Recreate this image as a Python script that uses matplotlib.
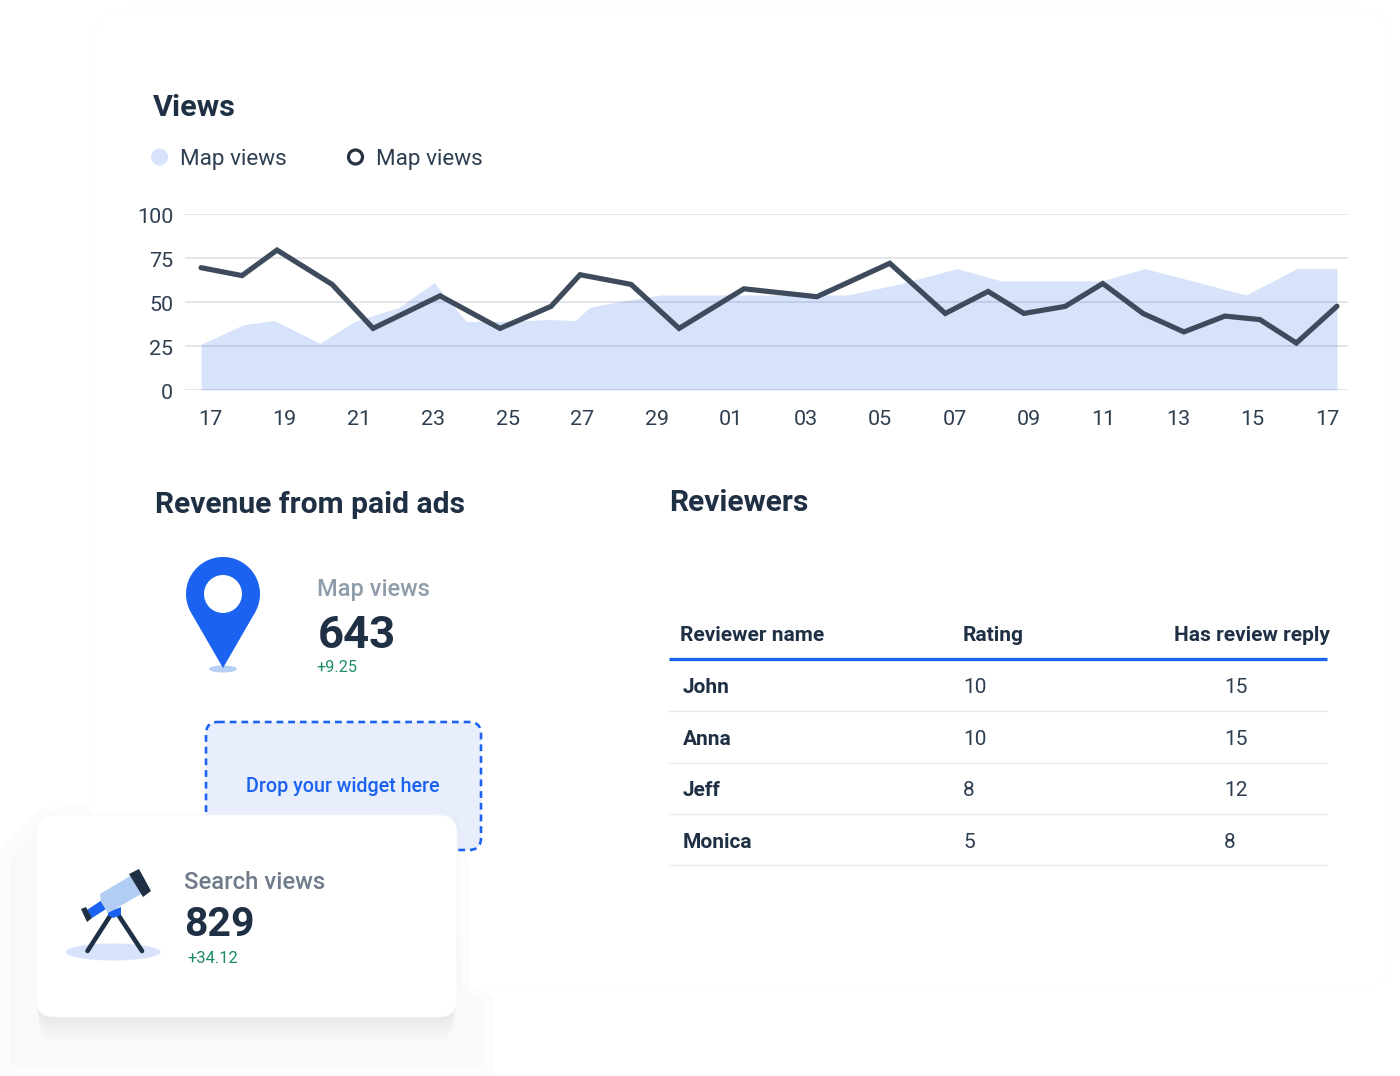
import matplotlib
matplotlib.use("Agg")
import matplotlib.pyplot as plt
from matplotlib.patches import FancyBboxPatch, Circle, Ellipse, Polygon
from matplotlib.transforms import ScaledTranslation
import numpy as np

plt.rcParams['font.family'] = ['Roboto', 'DejaVu Sans']

# ---- data ----
area_days = [-0.24, 0.89, 1.72, 2.95, 3.89, 5.08, 6.02, 6.88, 7.79, 9.11, 9.80, 10.21,
             10.91, 12.14, 14.24, 17.11, 18.48, 20.06, 21.25, 23.96, 25.11, 27.83, 29.20, 30.27]
area_vals = [26, 37, 39.5, 26.5, 39, 47, 61, 39, 39, 40, 39.5, 47,
             50, 54, 54, 54, 60, 69, 62, 62, 69, 54, 69, 69]
line_days = [-0.24, 0.86, 1.80, 3.28, 4.38, 6.18, 7.79, 9.16, 9.94, 11.31, 12.60, 14.34,
             16.30, 18.26, 19.75, 20.90, 21.86, 22.97, 23.98, 25.06, 26.16, 27.26, 28.20, 29.18, 30.27]
line_vals = [69.5, 65, 79.5, 60, 35, 53.5, 35, 47.5, 65.5, 60, 35, 57.5,
             53, 72, 43.5, 56, 43.5, 47.5, 60.5, 43.5, 33, 42, 40, 26.7, 47.6]
day_labels = ['17', '19', '21', '23', '25', '27', '29', '01', '03', '05', '07', '09', '11', '13', '15', '17']
y_ticks = [0, 25, 50, 75, 100]
reviewers = ['John', 'Anna', 'Jeff', 'Monica']
ratings = [10, 10, 8, 5]
replies = [15, 15, 12, 8]
table_headers = ['Reviewer name', 'Rating', 'Has review reply']

W, H = 1400, 1076
PX = 0.72
NAVY = '#1f3044'
BLUE = '#1a62ef'
PALE = '#d6e3fa'
GREEN = '#1a8a6a'

fig = plt.figure(figsize=(W / 100, H / 100), dpi=100, facecolor='white')

# overlay in pixel coordinates
ov = fig.add_axes([0, 0, 1, 1], zorder=1)
ov.set_xlim(0, W)
ov.set_ylim(H, 0)
ov.axis('off')

def txt(x, y, s, size, color=NAVY, weight='normal', ha='left', z=10):
    ov.text(x, y, s, fontsize=size * PX, color=color, fontweight=weight, ha=ha, va='center', zorder=z)

def rrect(x, y, w, h, r, **kw):
    p = FancyBboxPatch((x + r, y + r), w - 2 * r, h - 2 * r,
                       boxstyle=f"round,pad={r},rounding_size={r}", **kw)
    ov.add_patch(p)
    return p

# faint page card
rrect(92, 8, 1300, 982, 40, fc='white', ec='#fdfdfd', lw=1.2, zorder=0)

# chart
ax = fig.add_axes([185 / W, 1 - 390 / H, (1348 - 185) / W, (390 - 214) / H], zorder=2)
ax.patch.set_alpha(0)
ax.set_xlim((185 - 210) / 37.23, (1348 - 210) / 37.23)
ax.set_ylim(0, 100)
ax.fill_between(area_days, area_vals, 0, color=PALE, lw=0, zorder=1)
ax.plot(line_days, line_vals, color='#3d4b5c', lw=5.2 * PX, solid_joinstyle='miter',
        solid_capstyle='round', zorder=3, clip_on=False)
ax.set_axisbelow(False)
ax.set_yticks(y_ticks)
ax.set_xticks(np.arange(len(day_labels)) * 2)
ax.set_xticklabels(day_labels)
ax.grid(axis='y', color='#2a3a60', alpha=0.13, lw=2.0 * PX)
ax.grid(axis='x', visible=False)
ax.tick_params(axis='both', length=0, labelsize=21.5 * PX, labelcolor='#2d3e50')
ax.tick_params(axis='x', pad=14.2)
ax.tick_params(axis='y', pad=8.5)
shift = ScaledTranslation(0, -1.2 / 100, fig.dpi_scale_trans)
for lab in ax.get_yticklabels():
    lab.set_transform(lab.get_transform() + shift)
for s in ax.spines.values():
    s.set_visible(False)

# heading + legend
txt(153, 107.5, 'Views', 30.5, weight='bold')
ov.add_patch(Circle((159.5, 157), 8.5, fc=PALE, ec='none'))
txt(179.5, 160, 'Map views', 22.5, color='#2d3e50')
ov.add_patch(Circle((355.5, 157), 7, fc='white', ec='#25323f', lw=3.2 * PX))
txt(375.5, 160, 'Map views', 22.5, color='#2d3e50')

txt(155, 505, 'Revenue from paid ads', 30, weight='bold')
txt(669.5, 503, 'Reviewers', 30, weight='bold')

# pin
cx, cy, r, ty = 223, 594, 37, 668
ang = np.arcsin(r / (ty - cy))
th = np.linspace(-ang, np.pi + ang, 80)
xs = cx + r * np.cos(th)
ys = cy - r * np.sin(th)
ov.add_patch(Ellipse((223, 669), 28, 7, fc='#b5cff5', ec='none', zorder=2))
ov.add_patch(Polygon(list(zip(xs, ys)) + [(cx, ty)], closed=True, fc=BLUE, ec='none', zorder=3))
ov.add_patch(Circle((cx, cy), 19, fc='white', ec='none', zorder=4))

txt(317, 589.5, 'Map views', 23.6, color='#8f9dab', weight='medium')
txt(317.5, 636.5, '643', 45.5, weight='bold')
txt(316.5, 668, '+9.25', 16.3, color=GREEN)

# drop box
rrect(206, 722, 275, 128, 12, fc='#e8eefc', ec=BLUE, lw=2.6 * PX, ls=(0, (2.6, 1.9)), zorder=2)
txt(342.5, 786.5, 'Drop your widget here', 19.8, color=BLUE, ha='center', weight='medium', z=3)

# soft shadow + small card
outer = [(0, 850), (40, 808), (90, 805), (90, 815), (457, 815), (470, 860), (470, 990),
         (494, 995), (494, 1076), (0, 1076)]
inner = [(10, 860), (45, 820), (90, 818), (457, 830), (462, 990), (484, 1000), (484, 1066), (10, 1066)]
ov.add_patch(Polygon(outer, closed=True, fc='black', ec='none', alpha=0.012, zorder=4))
ov.add_patch(Polygon(inner, closed=True, fc='black', ec='none', alpha=0.012, zorder=4))
for k in range(1, 9):
    rrect(36 + k * 0.4, 820, 421 - k * 0.8, 197 + k * 3, 18, fc='black', ec='none', alpha=0.006, zorder=4)
rrect(36, 815, 421, 202, 18, fc='white', ec='#f6f6f6', lw=0.6, zorder=6)

# telescope
Z = 7
ov.add_patch(Ellipse((113, 952), 95, 17, fc=PALE, ec='none', zorder=Z))
for x0, y0, x1, y1 in [(110, 916, 87.5, 951), (119, 916, 142, 951)]:
    ov.plot([x0, x1], [y0, y1], color=NAVY, lw=4.6 * PX, solid_capstyle='round', zorder=Z + 1)
ov.add_patch(Polygon([(108, 912), (121, 907), (121, 915), (113, 918), (108, 915)], fc=BLUE, ec='none', zorder=Z + 2))
ov.add_patch(Polygon([(87, 910), (102, 900), (106, 909), (92, 918)], fc=BLUE, ec='none', zorder=Z + 2))
ov.add_patch(Polygon([(81, 909), (86, 907), (92, 918), (87, 922)], fc=NAVY, ec='none', zorder=Z + 3))
ov.add_patch(Polygon([(100, 894), (132, 875), (143, 893), (108, 913), (101, 902)], fc='#b2cdf4', ec='none', zorder=Z + 3))
ov.add_patch(Polygon([(129, 874), (139, 869), (151, 891), (143, 897)], fc=NAVY, ec='none', zorder=Z + 4))

txt(184.5, 882.5, 'Search views', 23.9, color='#6f7b8a', weight='medium', z=Z + 5)
txt(184, 925.5, '829', 41, weight='bold', z=Z + 5)
txt(187, 958.5, '+34.12', 16.5, color=GREEN, z=Z + 5)

# table
hy = 635.5
txt(680, hy, table_headers[0], 20.9, weight='bold')
txt(963, hy, table_headers[1], 20.9, weight='bold')
txt(1329.5, hy, table_headers[2], 20.9, weight='bold', ha='right')
ov.plot([669, 1327], [659, 659], color=BLUE, lw=3 * PX * 1.1, solid_capstyle='butt')
row_y = [687.5, 739.5, 790.5, 842.5]
rule_y = [711, 763, 814, 865]
for n, ra, re, y, ry in zip(reviewers, ratings, replies, row_y, rule_y):
    txt(683, y, n, 20.9, weight='bold')
    txt(963, y, str(ra), 20.9, color='#2d3e50')
    txt(1224, y, str(re), 20.9, color='#2d3e50')
    ov.plot([669, 1327], [ry, ry], color='#e6e8ea', lw=1.3 * PX)

fig.savefig('out.png', dpi=100)
